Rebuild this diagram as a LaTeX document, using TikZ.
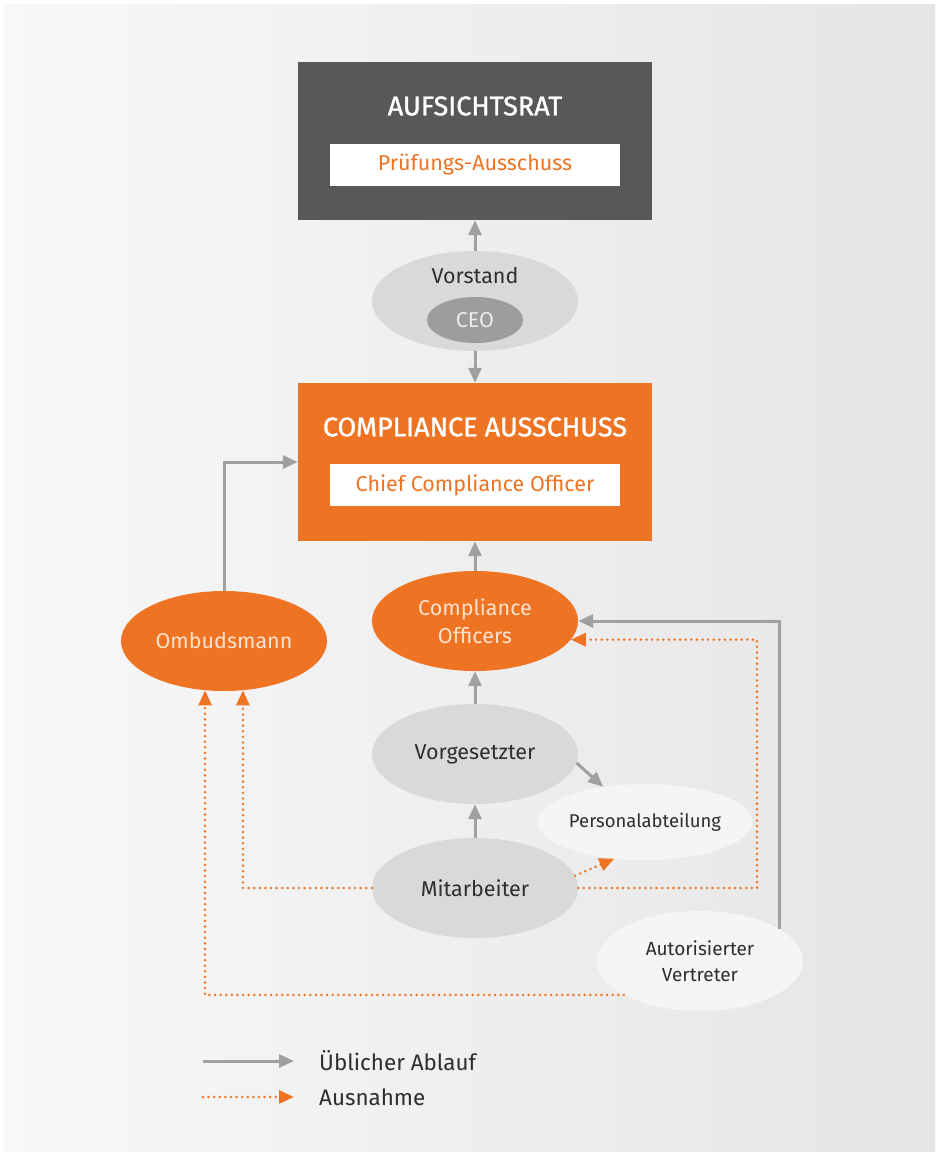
\documentclass[tikz,border=0pt]{standalone}
\usepackage{fontspec}
\setmainfont{Fira Sans}
\newfontfamily\titlefont{Fira Sans}[FakeBold=1.3]
\usetikzlibrary{shapes.geometric,arrows.meta,calc}
\definecolor{orng}{HTML}{EE7322}
\definecolor{darkbox}{HTML}{585856}
\definecolor{ellgray}{HTML}{D9D9D9}
\definecolor{ceogray}{HTML}{9D9D9D}
\definecolor{elllight}{HTML}{F5F5F5}
\definecolor{arrgray}{HTML}{A0A0A0}
\definecolor{txtdark}{HTML}{2E2E2E}
\definecolor{peach}{HTML}{FDE3CF}
\definecolor{bgleft}{HTML}{F8F8F8}
\definecolor{bgright}{HTML}{E5E5E5}
\tikzset{
  ell/.style={ellipse, inner sep=0pt, minimum width=206pt, minimum height=100pt, align=center, font=\fontsize{21.5}{28}\selectfont},
  grayell/.style={ell, fill=ellgray, text=txtdark},
  orell/.style={ell, fill=orng, text=peach},
  lightell/.style={ell, fill=elllight, text=txtdark},
  bigbox/.style={minimum width=354pt, minimum height=158pt, inner sep=0pt},
  innerbox/.style={fill=white, minimum width=290pt, minimum height=42pt, inner sep=0pt, text=orng, font=\fontsize{21.5}{24}\selectfont},
  title/.style={text=white, font=\titlefont\fontsize{27}{30}\selectfont},
  usual/.style={draw=arrgray, line width=3pt, -{Triangle[length=15pt,width=13pt]}},
  excep/.style={draw=orng, line width=2.8pt, dash pattern=on 0pt off 5.6pt, line cap=round, -{Triangle[length=15pt,width=13pt,line cap=butt]}},
}
\begin{document}
\begin{tikzpicture}[x=1pt,y=-1pt]
\useasboundingbox (0,0) rectangle (935,1152);
\fill[white] (0,0) rectangle (935,1152);
\shade[left color=bgleft, right color=bgright] (4,4) rectangle (935,1152);

% Aufsichtsrat
\node[bigbox, fill=darkbox] (ar) at (475,141) {};
\node[title] (art) at (475,106) {AUFSICHTSRAT};
\node[innerbox] (pa) at (475,165) {Prüfungs-Ausschuss};

% Vorstand
\node[grayell] (vs) at (475,301) {};
\node[text=txtdark, font=\fontsize{21.5}{24}\selectfont] (vst) at (475,276) {Vorstand};
\node[ellipse, fill=ceogray, inner sep=0pt, minimum width=96pt, minimum height=46pt, text=white!92!black, font=\fontsize{21.5}{24}\selectfont] (ceo) at (475,320) {CEO};

% Compliance Ausschuss
\node[bigbox, fill=orng] (ca) at (475,462) {};
\node[title] (cat) at (475,427) {COMPLIANCE AUSSCHUSS};
\node[innerbox] (cco) at (475,485) {Chief Compliance Officer};

% ellipses
\node[orell] (co) at (475,621) {Compliance\\Officers};
\node[orell] (omb) at (224,641) {Ombudsmann};
\node[grayell] (vg) at (475,754) {Vorgesetzter};
\node[lightell, minimum height=76pt, font=\fontsize{18.5}{24}\selectfont] (pers) at (645,822) {Personalabteilung};
\node[grayell] (mit) at (475,888) {Mitarbeiter};
\node[lightell, font=\fontsize{19}{26}\selectfont] (aut) at (700,961) {Autorisierter\\Vertreter};

% usual flow
\draw[usual] (vs.north) -- (ar.south);
\draw[usual] (ca.north |- vs.south) -- (ca.north);
\draw[usual] (co.north) -- (ca.south);
\draw[usual] (vg.north) -- (co.south);
\draw[usual] (mit.north) -- (vg.south);
\draw[usual] (vg.-5) -- (pers.140);
\draw[usual] (omb.north) |- (ca.west);
\draw[usual] (aut.22) |- (co.east);

% exceptions
\coordinate (rx) at (757,0);
\draw[excep] (mit.east) -| (rx |- co.-11) -- (co.-11);
\draw[excep] (mit.west) -| (omb.-69);
\draw[excep] (aut.204) -| (omb.-111);
\draw[excep] (mit.7) -- (pers.230);

% legend
\coordinate (l1a) at (203,1061);
\coordinate (l1b) at (294,1061);
\coordinate (l2a) at (203,1097);
\coordinate (l2b) at (294,1097);
\draw[usual] (l1a) -- (l1b);
\draw[excep] (l2a) -- (l2b);
\node[anchor=west, text=txtdark, font=\fontsize{22.4}{26}\selectfont, inner sep=0pt] (lt1) at (319,1061) {Üblicher Ablauf};
\node[anchor=west, text=txtdark, font=\fontsize{22.4}{26}\selectfont, inner sep=0pt] (lt2) at (319,1097) {Ausnahme};
\end{tikzpicture}
\end{document}
